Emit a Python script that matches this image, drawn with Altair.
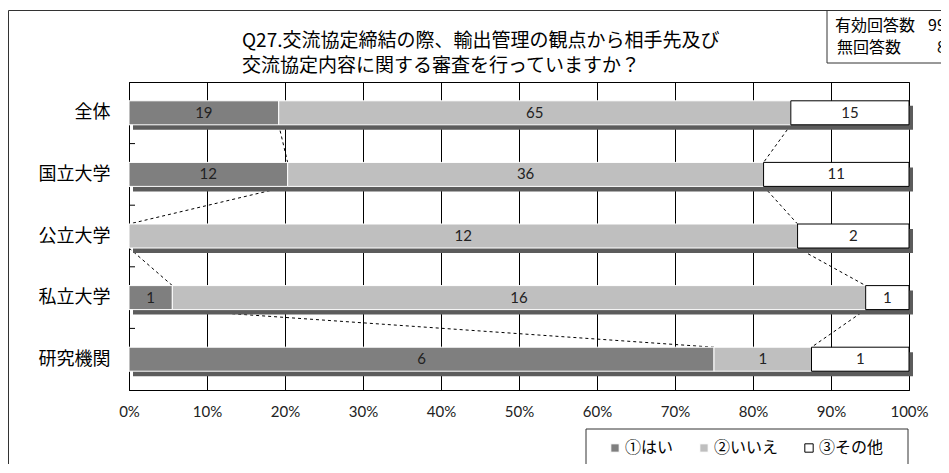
import altair as alt
import pandas as pd

categories = ['全体', '国立大学', '公立大学', '私立大学', '研究機関']
answers = ['①はい', '②いいえ', '③その他']
yes_counts = [19, 12, 0, 1, 6]
no_counts = [65, 36, 12, 16, 1]
other_counts = [15, 11, 2, 1, 1]
x_tick_values = [0, 0.1, 0.2, 0.3, 0.4, 0.5, 0.6, 0.7, 0.8, 0.9, 1.0]
title_lines = ['Q27.交流協定締結の際、輸出管理の観点から相手先及び',
               '交流協定内容に関する審査を行っていますか？']
header_labels = ['有効回答数', '無回答数']
header_values = ['99', '8']

fill_colors = ['#7f7f7f', '#bfbfbf', '#ffffff']
stroke_colors = ['#ffffff', '#ffffff', '#000000']

W, H = 780, 308
BAR = 24
NC = len(categories)
STEP = H / NC
half = BAR / 2 / STEP
JP = 'Noto Sans CJK JP'
NUM = 'Lato'

rows = []
cums = []
for i, c in enumerate(categories):
    counts = [yes_counts[i], no_counts[i], other_counts[i]]
    tot = sum(counts)
    cum = 0
    cl = []
    for a, v in zip(answers, counts):
        x0 = cum / tot
        cum += v
        x1 = cum / tot
        cl.append(x1)
        rows.append(dict(cat=c, ans=a, n=v, x0=x0, x1=x1, mid=(x0 + x1) / 2,
                         yc=i + 0.5, ytop=i + 0.5 - half, ybot=i + 0.5 + half))
    cums.append(cl)
seg = pd.DataFrame(rows)
shadow = pd.DataFrame({'cat': categories,
                       's0': [0.0] * NC, 's1': [1.0] * NC,
                       'ytop': [i + 0.5 - half for i in range(NC)],
                       'ybot': [i + 0.5 + half for i in range(NC)]})

lrows = []
for i in range(NC - 1):
    for k in range(2):
        lrows.append(dict(xa=cums[i][k], xb=cums[i + 1][k],
                          ya=i + 0.5 + half, yb=i + 1.5 - half))
series = pd.DataFrame(lrows)
ticks = pd.DataFrame({'yy': list(range(1, NC))})

xscale = alt.Scale(domain=[0, 1], nice=False)
yscale = alt.Scale(domain=[0, NC], reverse=True, nice=False, zero=False)
cat_js = '[' + ','.join("'" + c + "'" for c in categories) + ']'

x_axis = alt.Axis(title=None, format='%', values=x_tick_values, labelFont=NUM,
                  labelFontSize=15, labelColor='#222', labelPadding=14, ticks=False,
                  grid=True, gridColor='black', gridOpacity=1, gridWidth=1,
                  domainColor='black', labelFlush=False)
y_axis = alt.Axis(title=None, values=[i + 0.5 for i in range(NC)],
                  labelExpr=cat_js + '[floor(datum.value)]',
                  labelFont=JP, labelFontSize=18, labelColor='black',
                  labelPadding=19, ticks=False, domainColor='black', grid=False)

series_layer = alt.Chart(series).mark_rule(color='black', strokeDash=[3, 3], strokeWidth=1).encode(
    x=alt.X('xa:Q', scale=xscale, axis=x_axis),
    x2='xb:Q',
    y=alt.Y('ya:Q', scale=yscale, axis=y_axis),
    y2='yb:Q',
)

shadow_layer = alt.Chart(shadow).mark_bar(color='#5c5c5c', xOffset=4, x2Offset=4,
                                          yOffset=5, y2Offset=5).encode(
    x=alt.X('s0:Q'),
    x2='s1:Q',
    y=alt.Y('ytop:Q'),
    y2='ybot:Q',
)

bars = alt.Chart(seg).mark_bar(strokeWidth=1).encode(
    x=alt.X('x0:Q'),
    x2='x1:Q',
    y=alt.Y('ytop:Q'),
    y2='ybot:Q',
    color=alt.Color('ans:N', scale=alt.Scale(domain=answers, range=fill_colors),
                    legend=alt.Legend(orient='none', legendX=478, legendY=358,
                                      direction='horizontal', title=None, labelFont=JP,
                                      labelFontSize=16, labelColor='black', symbolType='square',
                                      symbolSize=70, symbolStrokeWidth=1, columnPadding=22,
                                      labelOffset=2, padding=0)),
    stroke=alt.Stroke('ans:N', scale=alt.Scale(domain=answers, range=stroke_colors)),
)

labels = alt.Chart(seg).transform_filter('datum.n > 0').mark_text(
    font=NUM, fontSize=15, color='#222').encode(
    x=alt.X('mid:Q'),
    y=alt.Y('yc:Q'),
    text='n:Q',
)

tick_layer = alt.Chart(ticks).mark_rule(color='black', strokeWidth=1).encode(
    y=alt.Y('yy:Q'),
    x=alt.value(0), x2=alt.value(6),
)

one = pd.DataFrame({'k': [0]})


def seg_rule(x1, x2, y1, y2):
    return alt.Chart(one).mark_rule(color='#333', strokeWidth=1).encode(
        x=alt.value(x1), x2=alt.value(x2), y=alt.value(y1), y2=alt.value(y2))


border_top = seg_rule(-120.5, 812, -71.5, -71.5)
border_left = seg_rule(-120.5, -120.5, -71.5, 382)
hbox_left = seg_rule(698, 698, -71.5, -19)
hbox_bottom = seg_rule(698, 812, -19, -19)


def txt(s, x, y, size, align='left', font=JP):
    return alt.Chart(pd.DataFrame({'t': [s]})).mark_text(
        font=font, fontSize=size, align=align, baseline='middle', color='black').encode(
        x=alt.value(x), y=alt.value(y), text='t:N')


title1 = txt(title_lines[0], 113, -41, 19)
title2 = txt(title_lines[1], 113, -16, 19)
hdr1 = txt(header_labels[0], 706, -56, 16)
hdr1v = txt(header_values[0], 799, -56, 16)
hdr2 = txt(header_labels[1], 708, -34, 16)
hdr2v = txt(header_values[1], 808, -34, 16)

legend_box = alt.Chart(one).mark_rect(fill='white', fillOpacity=0, stroke='#333', strokeWidth=1).encode(
    x=alt.value(457), x2=alt.value(779), y=alt.value(347), y2=alt.value(385))

chart = alt.layer(
    series_layer, shadow_layer, bars, labels, tick_layer,
    border_top, border_left, hbox_left, hbox_bottom,
    title1, title2, hdr1, hdr1v, hdr2, hdr2v, legend_box,
).properties(
    width=W, height=H,
    padding={'left': 121, 'top': 74, 'right': 32, 'bottom': 74},
    autosize=alt.AutoSizeParams(type='none'),
).configure(background='white').configure_view(stroke='black', strokeWidth=1)

chart.save('out.html', embed_options={'renderer': 'svg', 'actions': False})
